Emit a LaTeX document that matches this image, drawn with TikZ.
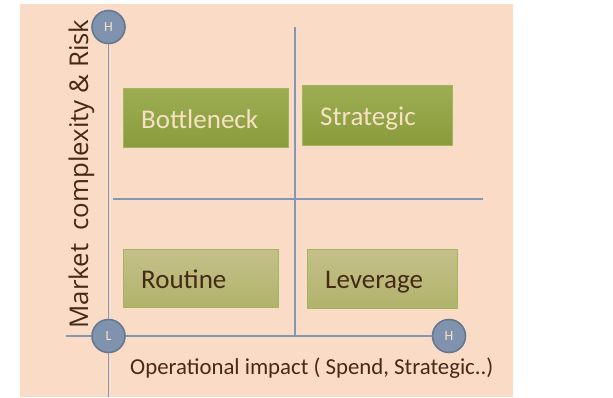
\documentclass[tikz,border=0pt]{standalone}
\usepackage{fontspec}
\setmainfont{Carlito}
\newfontfamily\axisfont{Open Sans}
\usetikzlibrary{positioning}

\definecolor{peach}{HTML}{FADBC6}
\definecolor{axisblue}{HTML}{8398B4}
\definecolor{dotfill}{HTML}{7F93AE}
\definecolor{dotline}{HTML}{667791}
\definecolor{darktop}{HTML}{9DAD53}
\definecolor{darkbot}{HTML}{8A9B3C}
\definecolor{lighttop}{HTML}{C5C08A}
\definecolor{lightbot}{HTML}{B0B36B}
\definecolor{boxrim}{HTML}{A3B45A}
\definecolor{cream}{HTML}{F6E2C2}
\definecolor{brownish}{HTML}{452A15}

\begin{document}
\begin{tikzpicture}[x=1pt,y=-1pt,
   axis/.style={axisblue,line width=1.8pt},
   gridline/.style={draw=axisblue,line width=1.1pt},
   dot/.style={circle,fill=dotfill,draw=dotline,line width=1.6pt,minimum size=33pt,inner sep=0pt,
      text=cream,font=\fontsize{14}{14}\selectfont},
   darkquad/.style={draw=boxrim,line width=0.8pt,top color=darktop,bottom color=darkbot},
   lightquad/.style={draw=boxrim,line width=0.8pt,top color=lighttop,bottom color=lightbot},
   quadtext/.style={anchor=base west,inner sep=0pt,text=#1,font=\fontsize{27}{27}\selectfont}]
\useasboundingbox (0,0) rectangle (613,397);
\fill[peach] (20,4) rectangle (513,397);

% grid lines
\coordinate (gtop) at (295,27);
\coordinate (gbot) at (295,335);
\coordinate (gleft) at (113,199);
\coordinate (gright) at (483,199);
\draw[gridline] (gtop) -- (gbot);
\draw[gridline] (gleft) -- (gright);

% axes
\node (yH) [dot] at (108.5,27) {H};
\node (oL) [dot] at (108.5,336) {L};
\node (xH) [dot] at (449,336) {H};
\coordinate (ybot) at (108.5,397);
\coordinate (xleft) at (66,336);
\draw[axis] (yH) -- (oL) -- (ybot);
\draw[axis] (xleft) -- (oL) -- (xH);

% quadrants
\path[darkquad] (123,88) rectangle (288,147);
\node (bottle) [quadtext=cream] at (141,128) {Bottleneck};
\path[darkquad] (302,85) rectangle (452,145);
\node (strat) [quadtext=cream] at (320,125) {Strategic};
\path[lightquad] (123,249) rectangle (278,307);
\node (routine) [quadtext=brownish] at (141,288) {Routine};
\path[lightquad] (307,249) rectangle (457,308);
\node (lever) [quadtext=brownish] at (325,288) {Leverage};

% axis labels
\node (xlab) [text=brownish,anchor=base west,inner sep=0pt,font=\fontsize{22.8}{22.8}\selectfont] at (130,374) {Operational impact ( Spend, Strategic..)};
\node (ylab) [text=brownish,rotate=90,anchor=base,inner sep=0pt,font=\axisfont\fontsize{25.8}{25.8}\selectfont] at (88,174) {Market\ \ complexity \& Risk};
\end{tikzpicture}
\end{document}
